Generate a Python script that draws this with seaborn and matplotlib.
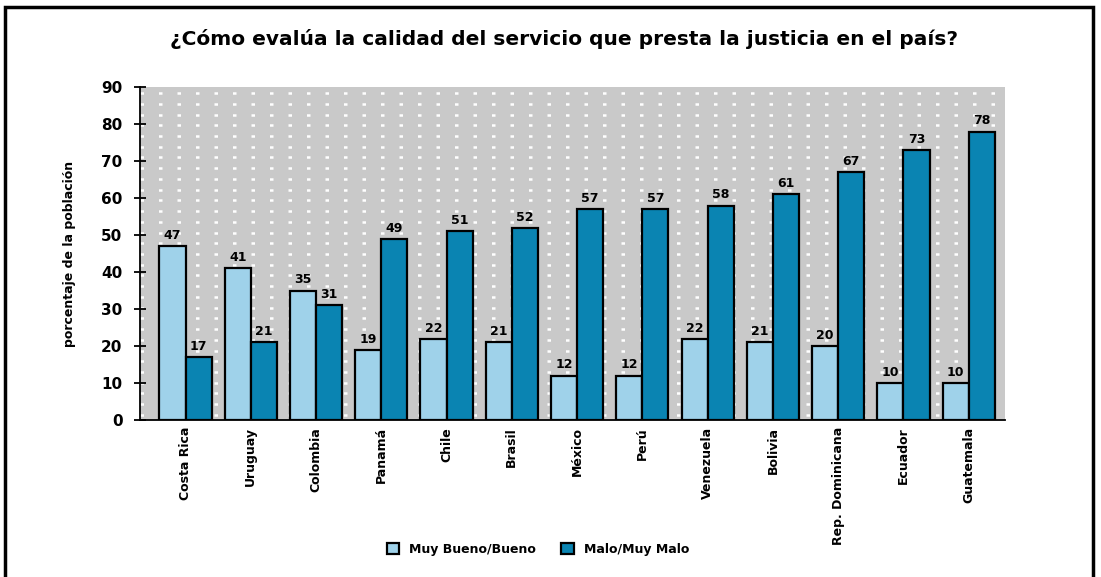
import numpy as np
import pandas as pd
import matplotlib
matplotlib.use("Agg")
import matplotlib.pyplot as plt
import seaborn as sns
from matplotlib.patches import Rectangle

# ---- data ----
countries = ["Costa Rica", "Uruguay", "Colombia", "Panamá", "Chile", "Brasil",
             "México", "Perú", "Venezuela", "Bolivia", "Rep. Dominicana",
             "Ecuador", "Guatemala"]
series_names = ["Muy Bueno/Bueno", "Malo/Muy Malo"]
bueno = [47, 41, 35, 19, 22, 21, 12, 12, 22, 21, 20, 10, 10]
malo = [17, 21, 31, 49, 51, 52, 57, 57, 58, 61, 67, 73, 78]
yticks = list(range(0, 91, 10))
title = "¿Cómo evalúa la calidad del servicio que presta la justicia en el país?"
ylabel = "porcentaje de la población"

df = pd.DataFrame({
    "país": countries * 2,
    "serie": [series_names[0]] * len(countries) + [series_names[1]] * len(countries),
    "valor": bueno + malo,
})

sns.set_theme(style="white")
plt.rcParams["font.family"] = ["DejaVu Sans"]
plt.rcParams["text.color"] = "black"
plt.rcParams["axes.labelcolor"] = "black"
plt.rcParams["xtick.color"] = "black"
plt.rcParams["ytick.color"] = "black"

fig = plt.figure(figsize=(11.01, 5.77), dpi=100)
ax = fig.add_axes([0.127, 0.272, 0.786, 0.577])

palette = {series_names[0]: "#9fd2ea", series_names[1]: "#0a84b2"}
sns.barplot(data=df, x="país", y="valor", hue="serie", order=countries,
            hue_order=series_names, palette=palette, ax=ax, width=0.8,
            edgecolor="black", linewidth=1.6, saturation=1, legend=True)

ax.set_facecolor("#c9c9c9")
# dotted white background pattern
for yy in np.arange(1.4, 90, 2.9):
    ax.axhline(yy, color="white", linestyle=(0, (1.4, 6)), linewidth=1.8, zorder=0)

for cont in ax.containers:
    ax.bar_label(cont, fmt="%d", padding=3, fontsize=9, fontweight="bold", color="black")

ax.set_ylim(0, 90)
ax.set_xlim(-0.7, 12.56)
ax.set_yticks(yticks)
ax.set_yticklabels([str(t) for t in yticks], fontsize=11, fontweight="bold")
ax.tick_params(axis="y", direction="inout", length=9, width=1.3, pad=8, left=True)
ax.tick_params(axis="x", length=0, pad=5)
plt.setp(ax.get_xticklabels(), rotation=90, fontsize=9, fontweight="bold",
         va="top", ha="center")
ax.set_xlabel("")
ax.set_ylabel(ylabel, fontsize=9, fontweight="bold", labelpad=18)

for s in ["top", "right"]:
    ax.spines[s].set_visible(False)
ax.spines["left"].set_color("black")
ax.spines["left"].set_linewidth(1.3)
ax.spines["bottom"].set_color("black")
ax.spines["bottom"].set_linewidth(1.3)

ax.set_title(title, fontsize=14.5, fontweight="bold", pad=30, x=0.49)

leg = ax.legend(loc="upper center", bbox_to_anchor=(0.46, -0.335), ncol=2,
                frameon=False, fontsize=9, handlelength=1.0, handleheight=1.0,
                columnspacing=2.0)
for t in leg.get_texts():
    t.set_fontweight("bold")

# outer frame
fig.patches.append(Rectangle((5 / 1101, -0.02), 1088 / 1101, 1 - 7 / 577 + 0.02,
                             transform=fig.transFigure, fill=False,
                             edgecolor="black", linewidth=2.5))

fig.savefig("out.png", dpi=100)
